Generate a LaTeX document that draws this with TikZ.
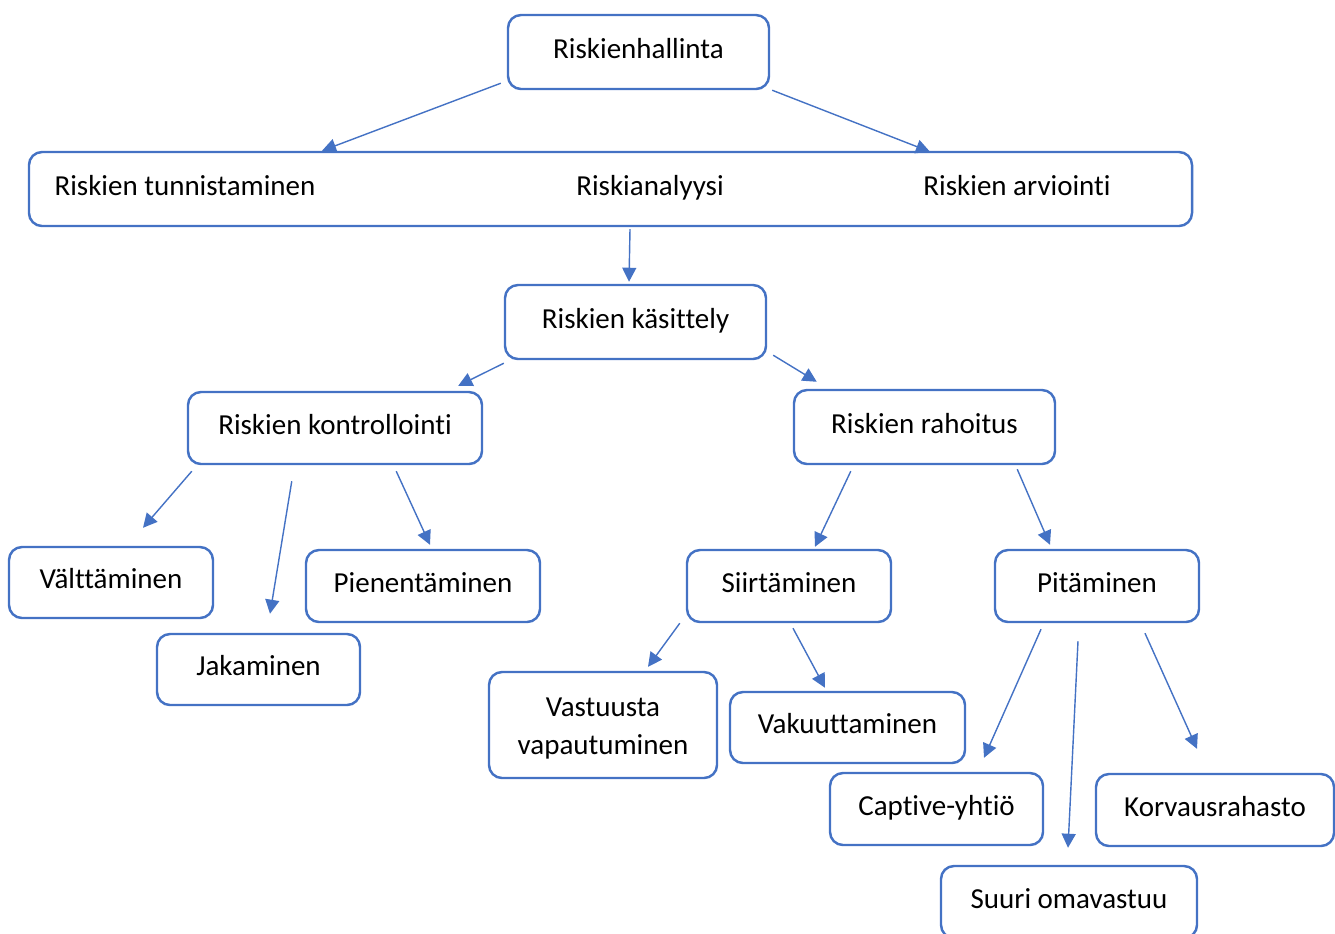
\documentclass[tikz,border=0pt]{standalone}
\usepackage{fontspec}
\setmainfont{Carlito}[Ligatures=NoCommon]
\usetikzlibrary{arrows.meta}
\definecolor{boxblue}{HTML}{4472C4}
\tikzset{
  txt/.style={inner sep=0pt, text height=11pt, text depth=3.8pt},
  box/.style={txt, draw=boxblue, line width=1.4pt, rounded corners=2.6mm, align=center},
  arr/.style={draw=boxblue, line width=0.8pt, -{Triangle[length=8pt,width=8pt]}},
}
\begin{document}
\begin{tikzpicture}[x=0.2mm,y=-0.2mm,font=\fontsize{16.5}{21.7}\selectfont]
  \useasboundingbox (0,0) rectangle (1335,933);
  % ylin taso
  \node[box, minimum width=52.2mm, minimum height=14.8mm] (hallinta) at (638.5,52) {Riskienhallinta};
  \node[box, minimum width=232.6mm, minimum height=14.8mm] (vaiheet) at (610.5,189) {};
  \node[txt] (tunnistaminen) at (185,189) {Riskien tunnistaminen};
  \node[txt] (analyysi) at (650,189) {Riskianalyysi};
  \node[txt] (arviointi) at (1017,189) {Riskien arviointi};
  \node[box, minimum width=52.2mm, minimum height=14.8mm] (kasittely) at (635.5,322) {Riskien käsittely};

  % kasittelyn haarat
  \node[box, minimum width=58.8mm, minimum height=14.4mm] (kontrollointi) at (335,428) {Riskien kontrollointi};
  \node[box, minimum width=52.2mm, minimum height=14.8mm] (rahoitus) at (924.5,427) {Riskien rahoitus};

  \node[box, minimum width=40.8mm, minimum height=14.2mm] (valttaminen) at (111,582.5) {Välttäminen};
  \node[box, minimum width=40.6mm, minimum height=14.2mm] (jakaminen) at (258.5,669.5) {Jakaminen};
  \node[box, minimum width=46.8mm, minimum height=14.4mm] (pienentaminen) at (423,586) {Pienentäminen};
  \node[box, minimum width=40.8mm, minimum height=14.4mm] (siirtaminen) at (789,586) {Siirtäminen};
  \node[box, minimum width=40.8mm, minimum height=14.4mm] (pitaminen) at (1097,586) {Pitäminen};

  \node[box, minimum width=45.6mm, minimum height=21.2mm] (vastuusta) at (603,725) {\raisebox{-4.5\dimexpr0.2mm}{\parbox{40mm}{\centering Vastuusta\\vapautuminen}}};
  \node[box, minimum width=47mm, minimum height=14.2mm] (vakuuttaminen) at (847.5,727.5) {Vakuuttaminen};
  \node[box, minimum width=42.6mm, minimum height=14.4mm] (captive) at (936.5,809) {Captive-yhtiö};
  \node[box, minimum width=47.6mm, minimum height=14.4mm] (korvausrahasto) at (1215,810) {Korvausrahasto};
  \node[box, minimum width=51.2mm, minimum height=14.4mm] (omavastuu) at (1069,902) {Suuri omavastuu};

  % nuolet
  \draw[arr] ([shift={(-6,-7)}]hallinta.south west) -- ([shift={(-288.5,0)}]vaiheet.north);
  \draw[arr] ([shift={(2,0)}]hallinta.south east) -- ([shift={(319.5,1)}]vaiheet.north);
  \draw[arr] ([shift={(19.5,2)}]vaiheet.south) -- ([shift={(-6.5,-2)}]kasittely.north);
  \draw[arr] ([shift={(0,3)}]kasittely.south west) -- ([shift={(-25,-5)}]kontrollointi.north east);
  \draw[arr] ([shift={(6,-5)}]kasittely.south east) -- ([shift={(24,-7)}]rahoitus.north west);
  \draw[arr] ([shift={(5,6)}]kontrollointi.south west) -- ([shift={(32,-18)}]valttaminen.north);
  \draw[arr] ([shift={(105,16)}]kontrollointi.south west) -- ([shift={(11.5,-19)}]jakaminen.north);
  \draw[arr] ([shift={(-87,6)}]kontrollointi.south east) -- ([shift={(7,-4)}]pienentaminen.north);
  \draw[arr] ([shift={(58,6)}]rahoitus.south west) -- ([shift={(26,-2)}]siirtaminen.north);
  \draw[arr] ([shift={(-39,4)}]rahoitus.south east) -- ([shift={(-47,-4)}]pitaminen.north);
  \draw[arr] ([shift={(-6,0)}]siirtaminen.south west) -- ([shift={(45,-4)}]vastuusta.north);
  \draw[arr] ([shift={(4,5)}]siirtaminen.south) -- ([shift={(-22.5,-3)}]vakuuttaminen.north);
  \draw[arr] ([shift={(-56,6)}]pitaminen.south) -- ([shift={(47.5,-14)}]captive.north);
  \draw[arr] ([shift={(-19,18)}]pitaminen.south) -- ([shift={(-1,-17)}]omavastuu.north);
  \draw[arr] ([shift={(48,10)}]pitaminen.south) -- ([shift={(-18,-24)}]korvausrahasto.north);
\end{tikzpicture}
\end{document}
